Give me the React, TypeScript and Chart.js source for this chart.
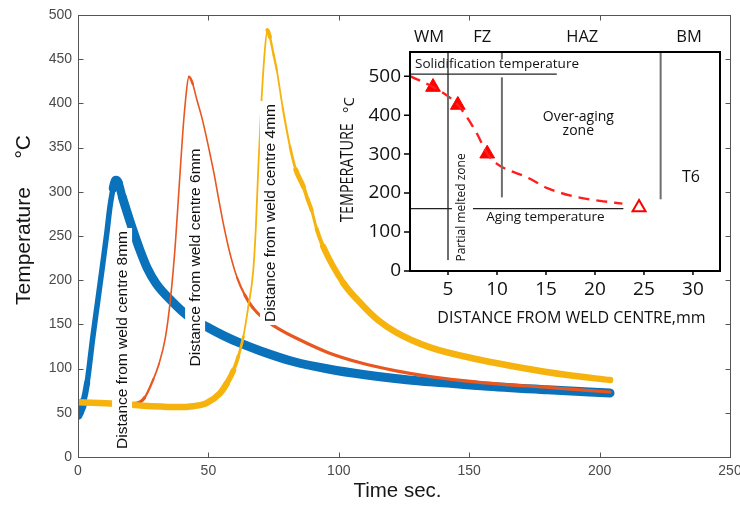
import React, { useEffect, useRef } from 'react';
import { Chart, registerables } from 'chart.js';

Chart.register(...registerables);

// ---------------- main chart data ----------------
const TIME_TICKS = [0, 50, 100, 150, 200, 250];
const TEMP_TICKS = [0, 50, 100, 150, 200, 250, 300, 350, 400, 450, 500];

const time8mm = [0, 2, 3.5, 5.7, 7.5, 9.2, 11, 12.3, 13.5, 14.5, 15.5, 17, 18.8, 21, 23.5, 26.5, 30, 36.4, 42, 49.5, 56, 62, 70, 82.5, 96, 110, 126, 140, 157, 180, 204];
const temp8mm = [47, 62, 84, 136, 175, 212, 252, 284, 304, 313, 310, 294, 277, 257, 236, 214, 196, 175, 160, 147, 137, 129, 120, 108, 99.5, 93, 87.5, 84, 80, 76, 72.5];

const time6mm = [0, 10, 18, 22.6, 25.5, 28.9, 31, 33.5, 35.5, 37.3, 39.1, 40.8, 42.6, 44, 45.5, 47.4, 49, 50.6, 52.2, 53.8, 56, 58.3, 61, 64, 67, 71, 77, 84, 96, 109, 122, 135, 154, 181, 204];
const temp6mm = [62, 61, 60.5, 61, 67, 88, 105, 135, 180, 240, 320, 390, 430, 422, 405, 385, 365, 343, 320, 294, 260, 230, 203, 183, 169, 157, 145, 134, 118, 106, 97.5, 91, 84.5, 78.5, 73.5];

const time4mm = [0, 8, 16, 25, 32, 38, 44, 49.3, 54.4, 57, 59.6, 61.5, 63.4, 65.3, 67.2, 68.2, 69.1, 70.3, 71.5, 72.6, 73.6, 75, 76.2, 78.5, 81.3, 83.5, 86.4, 88, 89.6, 91.5, 94, 101.7, 109, 115, 122, 135, 154, 170, 187, 204];
const temp4mm = [62, 61, 60, 58, 57, 56.5, 57.5, 61, 72, 83, 98, 114, 136, 170, 211, 260, 325, 400, 455, 483, 475, 455, 438, 395, 351, 325, 306, 292, 279, 258, 238, 197, 172, 155, 141, 124, 110, 101, 93, 87];

const curveNames = ['Distance from weld centre 8mm', 'Distance from weld centre 6mm', 'Distance from weld centre 4mm'];

// ---------------- inset data ----------------
const DIST_TICKS = [5, 10, 15, 20, 25, 30];
const INSET_TEMP_TICKS = [0, 100, 200, 300, 400, 500];
const INSET_X_MIN = 1.12;
const INSET_X_MAX = 32.76;
const INSET_Y_MAX = 562;

const measuredDist = [3.47, 6.0, 9.0];
const measuredTemp = [472, 426, 301];
const t6Dist = [24.5];
const t6Temp = [163];

const trendDist = [1.12, 3.47, 6.0, 7.9, 9.0, 10.0, 10.8, 13.1, 15.2, 18.3, 20.5, 22.8];
const trendTemp = [500, 472, 426, 355, 301, 275, 263, 240, 212, 189, 180, 173];

const SOLIDIFICATION_TEMP = 505;
const solidificationSpan = [1.12, 16.1];
const AGING_TEMP = 160;
const agingSpanStart = [1.12, 7.55];
const agingSpanEnd = [5.4, 22.9];

const boundaryDist = [5, 10.5, 10.5, 26.7];
const boundaryFrom = [28, 543, 189, 184];
const boundaryTo = [562, 562, 497, 562];

const zoneNames = ['WM', 'FZ', 'HAZ', 'BM'];

// ---------------- helpers ----------------
const zip = (xs: number[], ys: number[]) => xs.map((x, i) => ({ x, y: ys[i] }));

const slopeWidth = (thick: number, thin: number, ref: number) => (c: any) => {
  const dx = c.p1.parsed.x - c.p0.parsed.x;
  const dy = c.p1.parsed.y - c.p0.parsed.y;
  const s = Math.abs(dy / (dx || 1e-6));
  return Math.max(thin, thick * Math.min(1, ref / s));
};

const MAIN_FONT = '"Liberation Sans", Arial, sans-serif';
const INSET_FONT = '"Open Sans", "Noto Sans", sans-serif';

function rotatedLabel(ctx: CanvasRenderingContext2D, text: string, cx: number, cy: number, font: string, bg: boolean) {
  ctx.save();
  ctx.translate(cx, cy);
  ctx.rotate(-Math.PI / 2);
  ctx.font = font;
  const w = ctx.measureText(text).width;
  if (bg) {
    ctx.fillStyle = '#ffffff';
    ctx.fillRect(-w / 2 - 3, -10, w + 6, 20);
  }
  ctx.fillStyle = '#111';
  ctx.textAlign = 'center';
  ctx.textBaseline = 'middle';
  ctx.fillText(text, 0, 1);
  ctx.restore();
}

const mainDecor = {
  id: 'mainDecor',
  afterDraw(chart: any) {
    const { ctx, chartArea: a, scales } = chart;
    const x = scales.x;
    const y = scales.y;
    ctx.save();
    // frame
    ctx.strokeStyle = '#555';
    ctx.lineWidth = 1;
    const L = Math.round(a.left) + 0.5, R = Math.round(a.right) + 0.5, T = Math.round(a.top) + 0.5, B = Math.round(a.bottom) + 0.5;
    ctx.strokeRect(L, T, R - L, B - T);
    const TL = 5;
    ctx.beginPath();
    TIME_TICKS.forEach((v) => {
      const p = Math.round(x.getPixelForValue(v)) + 0.5;
      ctx.moveTo(p, B); ctx.lineTo(p, B - TL);
      ctx.moveTo(p, T); ctx.lineTo(p, T + TL);
    });
    TEMP_TICKS.forEach((v) => {
      const p = Math.round(y.getPixelForValue(v)) + 0.5;
      ctx.moveTo(L, p); ctx.lineTo(L + TL, p);
      ctx.moveTo(R, p); ctx.lineTo(R - TL, p);
    });
    ctx.stroke();

    // curve labels
    const labelAt = [
      [16.9, 132.4],
      [44.9, 225.7],
      [73.6, 276],
    ];
    curveNames.forEach((name, i) => {
      rotatedLabel(ctx, name, x.getPixelForValue(labelAt[i][0]), y.getPixelForValue(labelAt[i][1]), '15.5px ' + MAIN_FONT, true);
    });

    // axis titles
    ctx.fillStyle = '#161616';
    ctx.font = '20.5px ' + MAIN_FONT;
    ctx.textAlign = 'center';
    ctx.textBaseline = 'alphabetic';
    ctx.fillText('Time sec.', 397.5, 497);

    ctx.save();
    ctx.translate(30, 305);
    ctx.rotate(-Math.PI / 2);
    ctx.font = '21px ' + MAIN_FONT;
    ctx.textAlign = 'left';
    ctx.fillText('Temperature', 0, 0);
    ctx.textAlign = 'right';
    ctx.fillText('\u00B0C', 170, 0);
    ctx.restore();

    ctx.restore();
  },
};

const insetDecor = {
  id: 'insetDecor',
  beforeDatasetsDraw(chart: any) {
    const { ctx, chartArea: a } = chart;
    ctx.save();
    ctx.fillStyle = '#fff';
    ctx.fillRect(a.left, a.top, a.right - a.left, a.bottom - a.top);
    ctx.restore();
  },
  afterDraw(chart: any) {
    const { ctx, chartArea: a, scales } = chart;
    const px = (v: number) => scales.x.getPixelForValue(v);
    const py = (v: number) => scales.y.getPixelForValue(v);
    ctx.save();
    ctx.strokeStyle = '#000';
    ctx.lineWidth = 2;
    ctx.strokeRect(a.left, a.top, a.right - a.left, a.bottom - a.top);
    ctx.lineWidth = 1.5;
    ctx.beginPath();
    INSET_TEMP_TICKS.forEach((v) => { ctx.moveTo(a.left - 6, py(v)); ctx.lineTo(a.left, py(v)); });
    DIST_TICKS.forEach((v) => { ctx.moveTo(px(v), a.bottom); ctx.lineTo(px(v), a.bottom + 4); });
    ctx.stroke();

    ctx.fillStyle = '#111';
    ctx.textBaseline = 'middle';
    const txt = (s: string, xx: number, yy: number, size: number, align: CanvasTextAlign) => {
      ctx.font = size + 'px ' + INSET_FONT;
      ctx.textAlign = align;
      ctx.fillText(s, xx, yy);
    };
    // zone names above the box
    const zoneAt = [3.06, 8.5, 18.7, 29.6];
    zoneNames.forEach((z, i) => txt(z, px(zoneAt[i]), a.top - 15, 16.5, 'center'));

    txt('Solidification temperature', px(1.63), py(530), 13.5, 'left');
    txt('Aging temperature', px(8.9), py(138), 13.5, 'left');
    txt('Over-aging', px(18.3), py(395), 14, 'center');
    txt('zone', px(18.3), py(360), 14, 'center');
    txt('T6', px(29.8), py(240), 16, 'center');
    rotatedLabel(ctx, 'Partial melted zone', px(6.33), py(163), '12px ' + INSET_FONT, false);

    // axis titles
    ctx.fillStyle = '#111';
    txt('DISTANCE FROM WELD CENTRE,mm', px(17.6), 298, 16, 'center');
    ctx.save();
    ctx.translate(23, 202);
    ctx.rotate(-Math.PI / 2);
    ctx.scale(0.8, 1);
    ctx.font = '18px ' + INSET_FONT;
    ctx.textAlign = 'left';
    ctx.textBaseline = 'alphabetic';
    ctx.fillText('TEMPERATURE', 0, 0);
    ctx.restore();
    ctx.save();
    ctx.translate(24, 85);
    ctx.rotate(-Math.PI / 2);
    ctx.font = '15px ' + INSET_FONT;
    ctx.textAlign = 'center';
    ctx.textBaseline = 'alphabetic';
    ctx.fillText('\u00B0C', 0, 0);
    ctx.restore();
    ctx.restore();
  },
};

function mainConfig(): any {
  const tickFont = { family: MAIN_FONT, size: 14 };
  return {
    type: 'line',
    data: {
      datasets: [
        {
          label: curveNames[0], data: zip(time8mm, temp8mm), borderColor: '#0A72BA', order: 3,
          borderWidth: 9, pointRadius: 0, cubicInterpolationMode: 'monotone', borderCapStyle: 'round', borderJoinStyle: 'round',
          segment: { borderWidth: slopeWidth(9, 5.5, 10) },
        },
        {
          label: curveNames[1], data: zip(time6mm, temp6mm), borderColor: '#E8571F', order: 2,
          borderWidth: 3.2, pointRadius: 0, cubicInterpolationMode: 'monotone', borderCapStyle: 'round', borderJoinStyle: 'round',
          segment: { borderWidth: slopeWidth(3.2, 1.6, 4.5) },
        },
        {
          label: curveNames[2], data: zip(time4mm, temp4mm), borderColor: '#F6B30E', order: 1,
          borderWidth: 6.5, pointRadius: 0, cubicInterpolationMode: 'monotone', borderCapStyle: 'round', borderJoinStyle: 'round',
          segment: { borderWidth: slopeWidth(6.5, 1.8, 5) },
        },
      ],
    },
    options: {
      responsive: false,
      animation: false,
      layout: { padding: { left: 0, top: 15, right: 10, bottom: 0 } },
      plugins: { legend: { display: false }, tooltip: { enabled: false }, title: { display: false } },
      scales: {
        x: {
          type: 'linear', min: 0, max: 250,
          ticks: { stepSize: 50, padding: 6, color: '#4a4a4a', font: tickFont, maxRotation: 0, autoSkip: false },
          grid: { display: false, drawTicks: false }, border: { display: false },
          afterFit: (s: any) => { s.height = 52; s.paddingLeft = 0; s.paddingRight = 0; },
        },
        y: {
          type: 'linear', min: 0, max: 500,
          ticks: { stepSize: 50, padding: 6, color: '#4a4a4a', font: tickFont },
          grid: { display: false, drawTicks: false }, border: { display: false },
          afterFit: (s: any) => { s.width = 78; s.paddingTop = 0; s.paddingBottom = 0; },
        },
      },
    },
    plugins: [mainDecor],
  };
}

function insetConfig(): any {
  const tickFont = { family: INSET_FONT, size: 19 };
  const thinLine = (pts: any[], color: string, w: number) => ({
    data: pts, borderColor: color, borderWidth: w, pointRadius: 0, tension: 0, fill: false,
  });
  const datasets: any[] = [];
  datasets.push(thinLine(zip(solidificationSpan, [SOLIDIFICATION_TEMP, SOLIDIFICATION_TEMP]), '#222', 1.3));
  agingSpanStart.forEach((s, i) => datasets.push(thinLine(zip([s, agingSpanEnd[i]], [AGING_TEMP, AGING_TEMP]), '#222', 1.3)));
  boundaryDist.forEach((d, i) => datasets.push(thinLine(zip([d, d], [boundaryFrom[i], boundaryTo[i]]), '#6e6e6e', 2)));
  datasets.push({
    data: zip(trendDist, trendTemp), borderColor: '#FF1E1E', borderWidth: 2.4, borderDash: [11, 7],
    pointRadius: 0, cubicInterpolationMode: 'monotone', fill: false,
  });
  datasets.push({
    data: zip(measuredDist, measuredTemp), showLine: false, pointStyle: 'triangle', pointRadius: 8.5,
    backgroundColor: '#FF0000', borderColor: '#FF0000', borderWidth: 1,
  });
  datasets.push({
    data: zip(t6Dist, t6Temp), showLine: false, pointStyle: 'triangle', pointRadius: 7.5,
    backgroundColor: '#FFFFFF', borderColor: '#FF0000', borderWidth: 2,
  });
  return {
    type: 'line',
    data: { datasets },
    options: {
      responsive: false,
      animation: false,
      layout: { padding: { left: 0, top: 32, right: 20, bottom: 0 } },
      plugins: { legend: { display: false }, tooltip: { enabled: false } },
      scales: {
        x: {
          type: 'linear', min: INSET_X_MIN, max: INSET_X_MAX,
          afterBuildTicks: (s: any) => { s.ticks = DIST_TICKS.map((v) => ({ value: v })); },
          ticks: { padding: 7, color: '#111', font: tickFont, maxRotation: 0, autoSkip: false },
          grid: { display: false, drawTicks: false }, border: { display: false },
          afterFit: (s: any) => { s.height = 69; s.paddingLeft = 0; s.paddingRight = 0; },
        },
        y: {
          type: 'linear', min: 0, max: INSET_Y_MAX,
          afterBuildTicks: (s: any) => { s.ticks = INSET_TEMP_TICKS.map((v) => ({ value: v })); },
          ticks: { padding: 9, color: '#111', font: tickFont },
          grid: { display: false, drawTicks: false }, border: { display: false },
          afterFit: (s: any) => { s.width = 80; s.paddingTop = 0; s.paddingBottom = 0; },
        },
      },
    },
    plugins: [insetDecor],
  };
}

export default function App() {
  const mainRef = useRef<HTMLCanvasElement>(null);
  const insetRef = useRef<HTMLCanvasElement>(null);
  useEffect(() => {
    const main = new Chart(mainRef.current as HTMLCanvasElement, mainConfig());
    const inset = new Chart(insetRef.current as HTMLCanvasElement, insetConfig());
    return () => {
      main.destroy();
      inset.destroy();
    };
  }, []);
  return (
    <div style={{ position: 'absolute', left: 0, top: 0, width: 740, height: 509, background: '#fff', overflow: 'hidden' }}>
      <canvas ref={mainRef} width={740} height={509} style={{ position: 'absolute', left: 0, top: 0 }} />
      <canvas ref={insetRef} width={410} height={320} style={{ position: 'absolute', left: 330, top: 20 }} />
    </div>
  );
}
